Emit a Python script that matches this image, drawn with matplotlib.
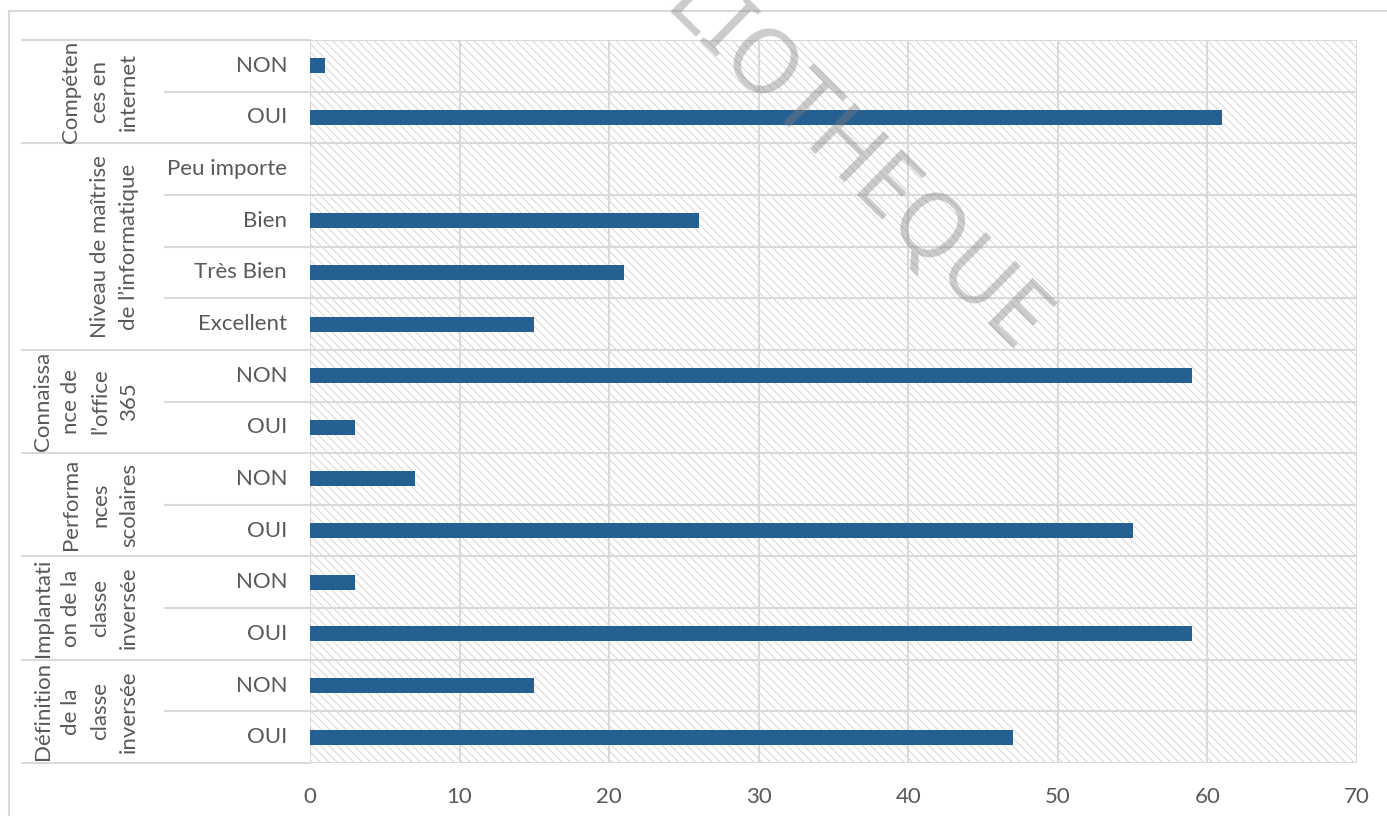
import matplotlib
matplotlib.use("Agg")
import matplotlib.pyplot as plt
from matplotlib.transforms import blended_transform_factory
from matplotlib.patches import Rectangle
from matplotlib.lines import Line2D
import numpy as np

plt.rcParams['font.family'] = ['Lato', 'DejaVu Sans']
plt.rcParams['hatch.linewidth'] = 0.7

groups = ["Compéten\nces en\ninternet",
          "Niveau de maîtrise\nde l’informatique",
          "Connaissa\nnce de\nl’office\n365",
          "Performa\nnces\nscolaires",
          "Implantati\non de la\nclasse\ninversée",
          "Définition\nde la\nclasse\ninversée"]
group_items = [["NON", "OUI"],
               ["Peu importe", "Bien", "Très Bien", "Excellent"],
               ["NON", "OUI"],
               ["NON", "OUI"],
               ["NON", "OUI"],
               ["NON", "OUI"]]
group_values = [[1, 61],
                [0, 26, 21, 15],
                [59, 3],
                [7, 55],
                [3, 59],
                [15, 47]]
xticks = [0, 10, 20, 30, 40, 50, 60, 70]

W, H = 1387, 816
fig = plt.figure(figsize=(W/100, H/100), dpi=100)
ax = fig.add_axes([310/W, 1-763/H, (1357-310)/W, (763-40)/H])

labels = [l for g in group_items for l in g]
values = [v for g in group_values for v in g]
n = len(labels)
ypos = np.arange(n)

bg = Rectangle((0, 0), 1, 1, transform=ax.transAxes, facecolor='white',
               edgecolor='#d4d4d4', hatch='\\\\\\\\', lw=0, zorder=0)
ax.add_patch(bg)

ax.barh(ypos, values, height=0.29, color='#265F91', zorder=3)
ax.set_xlim(0, 70)
ax.set_ylim(n-0.5, -0.5)
ax.set_xticks(xticks)
ax.set_xticklabels([str(t) for t in xticks], fontsize=16, color='#595959')
ax.tick_params(axis='x', length=0, pad=17)
ax.set_yticks([])
for s in ax.spines.values():
    s.set_visible(False)
gc = '#d9d9d9'
for t in xticks:
    ax.axvline(t, color=gc, lw=1.5, zorder=1)
for b in np.arange(-0.5, n, 1.0):
    ax.axhline(b, color=gc, lw=1.5, zorder=1)

tr = blended_transform_factory(fig.transFigure, ax.transData)
for y, lab in zip(ypos, labels):
    ax.text(287/W, y, lab, transform=tr, ha='right', va='center',
            fontsize=16, color='#595959')

start = 0
bounds = [-0.5]
for g, items in zip(groups, group_items):
    k = len(items)
    c = start + (k-1)/2
    ax.text(139/W, c, g, transform=tr, rotation=90, ha='right', va='center',
            multialignment='center', fontsize=16, color='#595959', linespacing=1.55)
    for j in range(1, k):
        ax.add_line(Line2D([165/W, 310/W], [start+j-0.5]*2, transform=tr,
                           color=gc, lw=1.5, clip_on=False))
    start += k
    bounds.append(start-0.5)
for b in bounds:
    ax.add_line(Line2D([22/W, 310/W], [b, b], transform=tr,
                       color=gc, lw=1.5, clip_on=False))

# outer frame
fig.add_artist(Line2D([9/W, 1.0], [1-11/H]*2, transform=fig.transFigure, color=gc, lw=1.5))
fig.add_artist(Line2D([9/W]*2, [0, 1-11/H], transform=fig.transFigure, color=gc, lw=1.5))

# watermark
fig.text(802/W, 1-118/H, "BIBLIOTHEQUE", rotation=-44.5, ha='center', va='center',
         fontsize=64, color='#7f7f7f', alpha=0.4, zorder=10,
         family=['Noto Sans', 'DejaVu Sans'], rotation_mode='anchor')

fig.savefig("out.png", dpi=100)
